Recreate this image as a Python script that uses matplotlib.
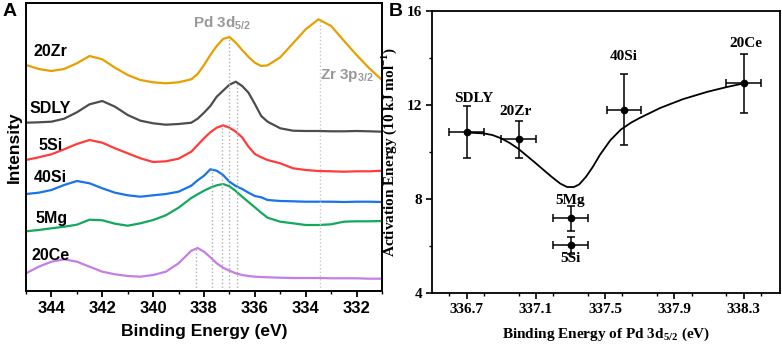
import numpy as np
import matplotlib
matplotlib.use("Agg")
import matplotlib.pyplot as plt
from matplotlib.ticker import MultipleLocator

plt.rcParams['mathtext.fontset'] = 'custom'
plt.rcParams['mathtext.rm'] = 'Liberation Serif:bold'
plt.rcParams['mathtext.bf'] = 'Liberation Serif:bold'
plt.rcParams['mathtext.sf'] = 'Liberation Sans:bold'

# ---- panel A: XPS spectra (offset, arbitrary units) ----
energy = [345, 344.5, 344, 343.5, 343, 342.5, 342, 341.5, 341, 340.5, 340, 339.5,
          339, 338.5, 338.25, 338, 337.75, 337.5, 337.25, 337, 336.75, 336.5,
          336.25, 336, 335.75, 335.5, 335, 334.5, 334, 333.5, 333, 332.5, 332,
          331.5, 331]
zr20 = [226.0, 222.0, 220.0, 222.0, 227.7, 235.0, 231.7, 223.3, 216.0, 211.0, 208.7, 207.7,
        208.7, 211.7, 217.0, 226.0, 236.0, 245.0, 252.0, 254.0, 248.3, 241.0,
        234.0, 228.3, 225.0, 225.7, 233.7, 247.7, 261.7, 271.7, 265.0, 250.3, 236.0,
        222.7, 211.0]
sdly = [168.3, 168.7, 169.3, 172.3, 178.7, 186.7, 190.0, 184.3, 176.0, 170.3, 167.7, 166.3,
        167.0, 168.3, 172.3, 178.3, 185.0, 194.3, 200.3, 206.3, 209.3, 205.0,
        198.3, 187.0, 175.0, 169.3, 162.7, 160.3, 160.0, 160.0, 159.7, 159.7, 160.0,
        159.7, 159.3]
si5 = [131.0, 133.7, 136.7, 141.7, 147.0, 151.0, 148.3, 142.7, 137.7, 132.7, 129.0, 129.7,
       132.3, 139.3, 146.0, 152.7, 158.7, 163.3, 165.7, 163.3, 159.3, 153.7,
       144.3, 137.0, 133.7, 131.0, 127.7, 122.7, 121.0, 120.0, 119.7, 119.3, 119.7,
       119.7, 120.3]
si40 = [97.0, 98.3, 101.0, 106.0, 110.0, 107.7, 102.7, 98.3, 95.7, 94.3, 95.7, 97.0,
        99.3, 105.3, 110.7, 115.3, 121.7, 120.3, 116.0, 109.3, 105.0, 102.0,
        98.3, 95.0, 93.7, 91.0, 90.0, 89.7, 89.3, 89.3, 89.3, 89.0, 89.3,
        89.3, 89.0]
mg5 = [59.7, 61.0, 62.7, 64.3, 66.3, 71.3, 70.7, 67.3, 65.3, 67.7, 71.0, 75.7,
       83.3, 93.0, 96.7, 100.3, 103.3, 105.7, 107.0, 104.7, 100.0, 94.3,
       89.0, 83.7, 78.3, 73.3, 69.3, 67.7, 66.0, 66.0, 66.7, 69.3, 69.7,
       69.7, 70.0]
ce20 = [17.7, 24.3, 29.3, 31.7, 29.3, 24.3, 19.3, 16.7, 15.0, 14.3, 16.0, 19.3,
        27.7, 40.3, 43.0, 39.3, 33.7, 27.7, 23.3, 20.3, 17.7, 16.0,
        15.0, 14.3, 14.0, 13.7, 13.3, 13.0, 13.0, 13.0, 12.7, 12.7, 12.7,
        12.3, 12.3]

names_a = ['20Zr', 'SDLY', '5Si', '40Si', '5Mg', '20Ce']
spectra = [zr20, sdly, si5, si40, mg5, ce20]
colors_a = ['#e6a000', '#4d4d4d', '#ff3c3c', '#1874e8', '#12a85e', '#c47ee6']
label_pos_a = [(344.69, 239.3), (344.88, 182.7), (344.52, 146.0),
               (344.70, 113.5), (344.62, 72.7), (344.79, 36.0)]

# Pd 3d5/2 peak markers (which spectrum each line climbs to)
pd_lines = [338.3, 337.7, 337.3, 337.0, 336.7]
pd_owner = ['20Ce', '40Si', '5Si', '20Zr', 'SDLY']
zr_line = 333.45

# ---- panel B: activation energy vs Pd 3d5/2 binding energy ----
samples_b = ['SDLY', '20Zr', '5Mg', '5Si', '40Si', '20Ce']
be_pd = [336.7, 337.0, 337.3, 337.3, 337.61, 338.3]
be_err = [0.1, 0.1, 0.1, 0.1, 0.1, 0.1]
ea = [10.84, 10.54, 7.18, 6.03, 11.80, 12.92]
ea_err = [1.11, 0.80, 0.53, 0.37, 1.51, 1.24]
fit_x = [336.70, 336.80, 336.85, 336.90, 336.95, 337.00, 337.09, 337.185, 337.24,
         337.28, 337.32, 337.35, 337.39, 337.43, 337.47, 337.53, 337.59, 337.65,
         337.70, 337.82, 337.95, 338.09, 338.20, 338.30]
fit_y = [10.83, 10.79, 10.72, 10.58, 10.38, 10.13, 9.58, 8.98, 8.66,
         8.51, 8.51, 8.62, 8.95, 9.38, 9.88, 10.50, 10.95, 11.25,
         11.45, 11.88, 12.25, 12.56, 12.76, 12.92]
label_off_b = {'SDLY': (5, 24), '20Zr': (-2, 20), '5Mg': (0, 13),
               '5Si': (0, -9.5), '40Si': (0, 38), '20Ce': (1.5, 29)}

fig = plt.figure(figsize=(7.82, 3.44), dpi=100)

# panel A
sans = 'Liberation Sans'
axA = fig.add_axes([26 / 782, 53 / 344, 356 / 782, 288 / 344])
for name, y, c, (lx, ly) in zip(names_a, spectra, colors_a, label_pos_a):
    axA.plot(energy, y, color=c, lw=1.6, solid_joinstyle='round')
    axA.text(lx, ly, name, fontfamily=sans, fontweight='bold', fontsize=11.5,
             ha='left', va='center')

e = np.array(energy)
window = (e > 336.4) & (e < 338.6)
for x, owner in zip(pd_lines, pd_owner):
    top = np.max(np.array(spectra[names_a.index(owner)])[window])
    axA.vlines(x, 0, top, colors='#b0b0b0', linestyles=':', lw=1.0)
axA.vlines(zr_line, 0, max(zr20), colors='#c8c8c8', linestyles=':', lw=1.0)

axA.text(338.42, 268, r'Pd 3d$_{\mathsf{5/2}}$', fontfamily=sans, fontweight='bold',
         fontsize=11, color='#999999', ha='left', va='center')
axA.text(333.45, 216, r'Zr 3p$_{\mathsf{3/2}}$', fontfamily=sans, fontweight='bold',
         fontsize=11, color='#999999', ha='left', va='center')

axA.set_xlim(345, 331)
axA.set_ylim(0, 288)
axA.set_yticks([])
axA.xaxis.set_major_locator(MultipleLocator(2))
axA.xaxis.set_minor_locator(MultipleLocator(1))
axA.tick_params(axis='x', which='major', length=4, width=1.3, direction='out', pad=3)
axA.tick_params(axis='x', which='minor', length=2.5, width=1.0, direction='out')
for lab in axA.get_xticklabels():
    lab.set_fontfamily(sans)
    lab.set_fontweight('bold')
    lab.set_fontsize(12)
for s in axA.spines.values():
    s.set_linewidth(1.4)
axA.set_xlabel('Binding Energy (eV)', fontfamily=sans, fontweight='bold',
               fontsize=12.5, labelpad=6)
axA.set_ylabel('Intensity', fontfamily=sans, fontweight='bold', fontsize=12.5,
               labelpad=3)

# panel B
serif = 'Liberation Serif'
axB = fig.add_axes([432 / 782, 51 / 344, 348 / 782, 282 / 344])
axB.plot(fit_x, fit_y, color='black', lw=1.3, solid_joinstyle='round')
axB.errorbar(be_pd, ea, xerr=be_err, yerr=ea_err, fmt='o', color='black',
             ms=4.5, elinewidth=1.1, capsize=2.8, capthick=1.1)
for name, x, y in zip(samples_b, be_pd, ea):
    dx, dy = label_off_b[name]
    axB.annotate(name, (x, y), xytext=(dx, dy), textcoords='offset points',
                 ha='center', va='center', fontfamily=serif, fontweight='bold',
                 fontsize=11)

axB.set_xlim(336.5, 338.51)
axB.set_ylim(4, 16)
axB.set_xticks([336.7, 337.1, 337.5, 337.9, 338.3])
axB.xaxis.set_minor_locator(MultipleLocator(0.2))
axB.set_yticks([4, 8, 12, 16])
axB.yaxis.set_minor_locator(MultipleLocator(2))
axB.tick_params(which='major', length=4, width=1.2, direction='out', pad=3)
axB.tick_params(which='minor', length=2.5, width=1.0, direction='out')
for lab in axB.get_xticklabels() + axB.get_yticklabels():
    lab.set_fontfamily(serif)
    lab.set_fontweight('bold')
    lab.set_fontsize(11)
for s in axB.spines.values():
    s.set_linewidth(1.3)
axB.set_xlabel(r'Binding Energy of Pd 3d$_{\mathrm{5/2}}$ (eV)', fontfamily=serif,
               fontweight='bold', fontsize=11, labelpad=7)
axB.set_ylabel(r'Activation Energy (10 kJ mol$^{\mathrm{-1}}$)', fontfamily=serif,
               fontweight='bold', fontsize=11, labelpad=6)

fig.text(3 / 782, 1 - 3 / 344, 'A', fontfamily=sans, fontweight='bold', fontsize=14,
         ha='left', va='top')
fig.text(389 / 782, 1 - 3 / 344, 'B', fontfamily=sans, fontweight='bold', fontsize=14,
         ha='left', va='top')

fig.savefig('out.png', dpi=100)
